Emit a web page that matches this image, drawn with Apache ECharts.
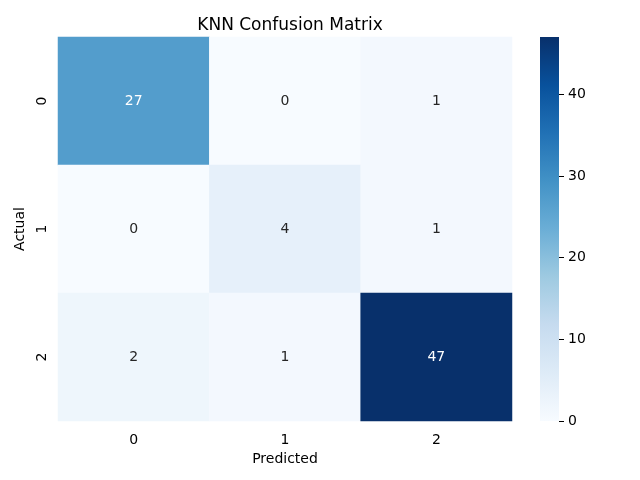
<!DOCTYPE html>
<html>
<head>
    <meta charset="UTF-8">
    <script src="https://cdn.jsdelivr.net/npm/echarts@6/dist/echarts.min.js"></script>
</head>
<body style="margin:0;background:#fff;">
<div id="main" style="width: 640px; height: 480px;"></div>
<script type="text/javascript">
    // confusion matrix, rows = actual, columns = predicted
    var predictedLabels = ['0', '1', '2'];
    var actualLabels = ['0', '1', '2'];
    var row0 = [27, 0, 1];
    var row1 = [0, 4, 1];
    var row2 = [2, 1, 47];
    var colorbarTicks = [0, 10, 20, 30, 40];
    var vmax = 47;

    // matplotlib "Blues"
    var blues = ['#f7fbff', '#deebf7', '#c6dbef', '#9ecae1', '#6baed6',
        '#4292c6', '#2171b5', '#08519c', '#08306b'];

    var rows = [row0, row1, row2];
    var cells = [];
    for (var i = 0; i < rows.length; i++) {
        for (var j = 0; j < rows[i].length; j++) {
            var v = rows[i][j];
            cells.push({
                value: [j, i, v],
                label: {color: v > 20 ? '#ffffff' : '#262626'}
            });
        }
    }

    // gradient for the colorbar, bottom (0) to top (vmax)
    var stops = [];
    for (var k = 0; k < blues.length; k++) {
        stops.push({offset: 1 - k / (blues.length - 1), color: blues[k]});
    }

    var myChart = echarts.init(document.getElementById('main'));
    var font = 'DejaVu Sans';
    var option = {
        backgroundColor: '#ffffff',
        animation: false,
        textStyle: {fontFamily: font},
        title: {
            text: 'KNN Confusion Matrix',
            left: 285,
            top: 12,
            textAlign: 'center',
            textStyle: {fontFamily: font, fontSize: 17, fontWeight: 'normal', color: '#000'}
        },
        grid: [
            {left: 58, right: 128, top: 37, bottom: 59},
            {left: 540, width: 19, top: 37, bottom: 59}
        ],
        xAxis: [
            {
                type: 'category',
                data: predictedLabels,
                gridIndex: 0,
                position: 'bottom',
                name: 'Predicted',
                nameLocation: 'middle',
                nameGap: 30,
                nameTextStyle: {fontFamily: font, fontSize: 14, color: '#000'},
                axisLine: {show: false},
                axisTick: {alignWithLabel: true, length: 5, lineStyle: {color: '#000'}},
                axisLabel: {fontFamily: font, fontSize: 14, color: '#000', margin: 12},
                splitLine: {show: false}
            },
            {
                type: 'category',
                data: [''],
                gridIndex: 1,
                show: false
            }
        ],
        yAxis: [
            {
                type: 'category',
                data: actualLabels,
                gridIndex: 0,
                inverse: true,
                name: 'Actual',
                nameLocation: 'middle',
                nameGap: 30,
                nameRotate: 90,
                nameTextStyle: {fontFamily: font, fontSize: 14, color: '#000'},
                axisLine: {show: false},
                axisTick: {alignWithLabel: true, length: 5, lineStyle: {color: '#000'}},
                axisLabel: {fontFamily: font, fontSize: 14, color: '#000', rotate: 90, margin: 9},
                splitLine: {show: false}
            },
            {
                type: 'value',
                gridIndex: 1,
                position: 'right',
                min: 0,
                max: vmax,
                axisLine: {show: true, lineStyle: {color: '#000', opacity: 0}},
                axisTick: {show: true, inside: false, length: 5, customValues: colorbarTicks,
                    lineStyle: {color: '#000', width: 1}},
                axisLabel: {fontFamily: font, fontSize: 14, color: '#000', margin: 9, customValues: colorbarTicks},
                splitLine: {show: false}
            }
        ],
        visualMap: {
            type: 'continuous',
            show: false,
            seriesIndex: 0,
            min: 0,
            max: vmax,
            inRange: {color: blues}
        },
        series: [
            {
                type: 'heatmap',
                xAxisIndex: 0,
                yAxisIndex: 0,
                data: cells,
                label: {show: true, fontFamily: font, fontSize: 14},
                itemStyle: {borderWidth: 0},
                emphasis: {disabled: true}
            },
            {
                // colorbar
                type: 'bar',
                xAxisIndex: 1,
                yAxisIndex: 1,
                data: [vmax],
                barWidth: '100%',
                silent: true,
                itemStyle: {
                    color: new echarts.graphic.LinearGradient(0, 0, 0, 1, stops)
                }
            }
        ]
    };
    myChart.setOption(option);
</script>
</body>
</html>
